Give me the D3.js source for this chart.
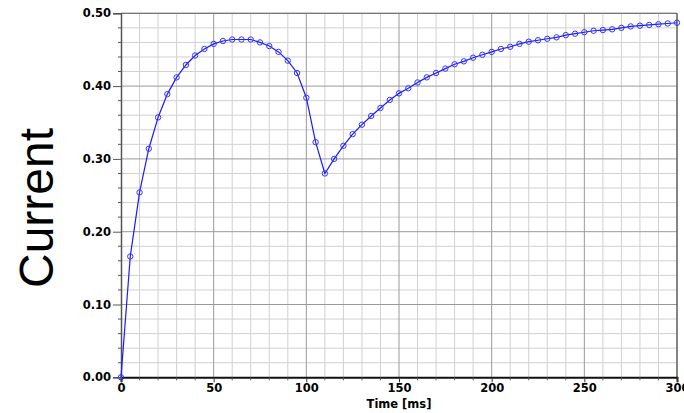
<!DOCTYPE html>
<html>
<head>
<meta charset="utf-8">
<script src="https://cdn.jsdelivr.net/npm/d3@7"></script>
<style>
  body { margin: 0; background: #fff; }
  svg { display: block; }
</style>
</head>
<body>
<svg id="chart"></svg>
<script>
const times = [0, 5, 10, 15, 20, 25, 30, 35, 40, 45, 50, 55, 60, 65, 70, 75, 80, 85, 90, 95,
  100, 105, 110, 115, 120, 125, 130, 135, 140, 145, 150, 155, 160, 165, 170, 175, 180, 185, 190, 195,
  200, 205, 210, 215, 220, 225, 230, 235, 240, 245, 250, 255, 260, 265, 270, 275, 280, 285, 290, 295, 300];
const current = [0, 0.166, 0.254, 0.314, 0.357, 0.389, 0.412, 0.429, 0.442, 0.451, 0.458, 0.462, 0.464, 0.464, 0.464, 0.460, 0.455, 0.447, 0.435, 0.418,
  0.384, 0.323, 0.280, 0.300, 0.318, 0.334, 0.347, 0.359, 0.370, 0.381, 0.390, 0.397, 0.405, 0.412, 0.418, 0.424, 0.430, 0.434, 0.439, 0.443,
  0.447, 0.451, 0.454, 0.458, 0.461, 0.463, 0.465, 0.467, 0.470, 0.472, 0.474, 0.476, 0.477, 0.478, 0.480, 0.482, 0.483, 0.484, 0.485, 0.486, 0.487];
const xTicks = [0, 50, 100, 150, 200, 250, 300];
const yTicks = [0, 0.1, 0.2, 0.3, 0.4, 0.5];
const xLabel = 'Time [ms]';
const yLabel = 'Current';

const data = times.map((t, i) => ({ t, v: current[i] }));

const width = 684, height = 413;
const margin = { top: 13.3, right: 7, bottom: 35.7, left: 121 };
const w = width - margin.left - margin.right;
const h = height - margin.top - margin.bottom;

const svg = d3.select('#chart').attr('width', width).attr('height', height);
const g = svg.append('g').attr('transform', `translate(${margin.left},${margin.top})`);

const x = d3.scaleLinear().domain([0, 300]).range([0, w]);
const y = d3.scaleLinear().domain([0, 0.5]).range([h, 0]);

// minor grid
g.append('g')
  .selectAll('line')
  .data(d3.range(10, 300, 10).filter(d => d % 50 !== 0))
  .join('line')
  .attr('x1', d => x(d)).attr('x2', d => x(d))
  .attr('y1', 0).attr('y2', h)
  .attr('stroke', '#d0d0d0').attr('stroke-width', 1);

g.append('g')
  .selectAll('line')
  .data(d3.range(1, 25).map(i => i * 0.02).filter(d => Math.abs(d * 10 - Math.round(d * 10)) > 1e-6))
  .join('line')
  .attr('x1', 0).attr('x2', w)
  .attr('y1', d => y(d)).attr('y2', d => y(d))
  .attr('stroke', '#d0d0d0').attr('stroke-width', 1);

// major grid
g.append('g')
  .selectAll('line')
  .data(xTicks.slice(1))
  .join('line')
  .attr('x1', d => x(d)).attr('x2', d => x(d))
  .attr('y1', 0).attr('y2', h)
  .attr('stroke', '#999').attr('stroke-width', 1);

g.append('g')
  .selectAll('line')
  .data(yTicks.slice(1))
  .join('line')
  .attr('x1', 0).attr('x2', w)
  .attr('y1', d => y(d)).attr('y2', d => y(d))
  .attr('stroke', '#999').attr('stroke-width', 1);

// frame top/right
g.append('line').attr('x1', 0).attr('x2', w).attr('y1', 0).attr('y2', 0)
  .attr('stroke', '#777').attr('stroke-width', 1.2);
g.append('line').attr('x1', w).attr('x2', w).attr('y1', 0).attr('y2', h)
  .attr('stroke', '#555').attr('stroke-width', 1.2);

// x axis
const xAxis = g.append('g')
  .attr('transform', `translate(0,${h})`)
  .call(d3.axisBottom(x).tickValues(xTicks).tickSize(5).tickPadding(2).tickFormat(d3.format('d')));
xAxis.select('.domain').attr('stroke', '#111').attr('stroke-width', 2);
xAxis.selectAll('.tick line').attr('stroke', '#333');
xAxis.selectAll('text')
  .style('font-family', '"DejaVu Sans", sans-serif')
  .style('font-weight', 'bold')
  .style('font-size', '11.5px')
  .attr('fill', '#000');

g.append('g')
  .attr('transform', `translate(0,${h})`)
  .selectAll('line')
  .data(d3.range(10, 300, 10).filter(d => d % 50 !== 0))
  .join('line')
  .attr('x1', d => x(d)).attr('x2', d => x(d))
  .attr('y1', 0).attr('y2', 3)
  .attr('stroke', '#555');

// y axis
const yAxis = g.append('g')
  .call(d3.axisLeft(y).tickValues(yTicks).tickSize(8).tickPadding(2).tickFormat(d3.format('.2f')));
yAxis.select('.domain').attr('stroke', '#555').attr('stroke-width', 1.5);
yAxis.selectAll('.tick line').attr('stroke', '#555');
yAxis.selectAll('text')
  .style('font-family', '"DejaVu Sans", sans-serif')
  .style('font-weight', 'bold')
  .style('font-size', '11.5px')
  .attr('fill', '#000');

g.append('g')
  .selectAll('line')
  .data(d3.range(1, 25).map(i => i * 0.02).filter(d => Math.abs(d * 10 - Math.round(d * 10)) > 1e-6))
  .join('line')
  .attr('x1', -3).attr('x2', 0)
  .attr('y1', d => y(d)).attr('y2', d => y(d))
  .attr('stroke', '#555');

// labels
svg.append('text')
  .attr('x', margin.left + w / 2)
  .attr('y', 408)
  .attr('text-anchor', 'middle')
  .style('font-family', '"DejaVu Sans", sans-serif')
  .style('font-weight', 'bold')
  .style('font-size', '11.5px')
  .text(xLabel);

svg.append('text')
  .attr('transform', `translate(53,208) rotate(-90)`)
  .attr('text-anchor', 'middle')
  .style('font-family', '"Liberation Sans", Arial, sans-serif')
  .style('font-size', '48px')
  .attr('fill', '#000')
  .text(yLabel);

// series
const line = d3.line().x(d => x(d.t)).y(d => y(d.v));

g.append('path')
  .datum(data)
  .attr('fill', 'none')
  .attr('stroke', '#1a1aff')
  .attr('stroke-width', 1.2)
  .attr('d', line);

g.append('g')
  .selectAll('circle')
  .data(data)
  .join('circle')
  .attr('cx', d => x(d.t))
  .attr('cy', d => y(d.v))
  .attr('r', 2.7)
  .attr('fill', 'none')
  .attr('stroke', '#3333ff')
  .attr('stroke-width', 1);
</script>
</body>
</html>
